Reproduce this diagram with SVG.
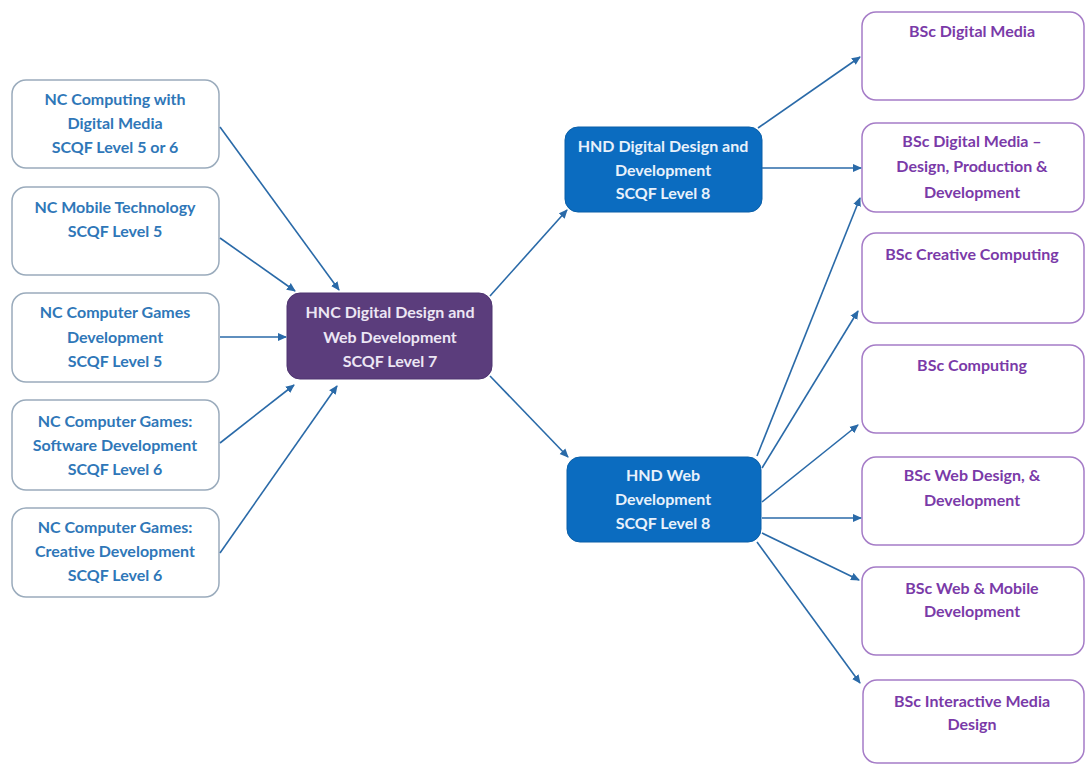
<svg xmlns="http://www.w3.org/2000/svg" width="1090" height="765" viewBox="0 0 1090 765">
<style>
.src{fill:#ffffff;stroke:#9aabbc;stroke-width:1.5}
.dst{fill:#ffffff;stroke:#a57cc7;stroke-width:1.5}
.hnc{fill:#5b3d7c;stroke:#4e3470;stroke-width:1}
.hnd{fill:#0b6cc0;stroke:#0a5fa8;stroke-width:1}
text{font-family:Lato,"Open Sans","Liberation Sans",sans-serif;font-weight:bold;font-size:16px;text-anchor:middle}
.ts{fill:#2f77b8}
.td{fill:#7a3aa8}
.tw{fill:#ece6f4}
.tb{fill:#e8f1fb}
.conn line{stroke:#2a6aa8;stroke-width:1.6;marker-end:url(#ah)}
</style>
<defs>
<marker id="ah" markerWidth="10" markerHeight="10" refX="8" refY="4.5" orient="auto" markerUnits="userSpaceOnUse">
<path d="M0,0.5 L9,4.5 L0,8.5 Z" fill="#2a6aa8"/>
</marker>
</defs>
<rect width="1090" height="765" fill="#ffffff"/>

<g id="nc1"><rect class="src" x="12" y="80" width="207" height="88" rx="14"/>
<text class="ts" x="115" y="105">NC Computing with</text>
<text class="ts" x="115" y="129">Digital Media</text>
<text class="ts" x="115" y="153">SCQF Level 5 or 6</text></g>

<g id="nc2"><rect class="src" x="12" y="187" width="207" height="88" rx="14"/>
<text class="ts" x="115" y="213">NC Mobile Technology</text>
<text class="ts" x="115" y="237">SCQF Level 5</text></g>

<g id="nc3"><rect class="src" x="12" y="293" width="207" height="89" rx="14"/>
<text class="ts" x="115" y="318">NC Computer Games</text>
<text class="ts" x="115" y="343">Development</text>
<text class="ts" x="115" y="367">SCQF Level 5</text></g>

<g id="nc4"><rect class="src" x="12" y="400" width="207" height="90" rx="14"/>
<text class="ts" x="115" y="427">NC Computer Games:</text>
<text class="ts" x="115" y="451">Software Development</text>
<text class="ts" x="115" y="475">SCQF Level 6</text></g>

<g id="nc5"><rect class="src" x="12" y="508" width="207" height="89" rx="14"/>
<text class="ts" x="115" y="533">NC Computer Games:</text>
<text class="ts" x="115" y="557">Creative Development</text>
<text class="ts" x="115" y="581">SCQF Level 6</text></g>

<g id="hnc"><rect class="hnc" x="287" y="293" width="205" height="86" rx="13"/>
<text class="tw" x="390" y="318">HNC Digital Design and</text>
<text class="tw" x="390" y="343">Web Development</text>
<text class="tw" x="390" y="367">SCQF Level 7</text></g>

<g id="hnd1"><rect class="hnd" x="565" y="127" width="197" height="85" rx="13"/>
<text class="tb" x="663" y="152">HND Digital Design and</text>
<text class="tb" x="663" y="176">Development</text>
<text class="tb" x="663" y="199">SCQF Level 8</text></g>

<g id="hnd2"><rect class="hnd" x="567" y="457" width="194" height="85" rx="13"/>
<text class="tb" x="663" y="481">HND Web</text>
<text class="tb" x="663" y="505">Development</text>
<text class="tb" x="663" y="529">SCQF Level 8</text></g>

<g id="bsc1"><rect class="dst" x="862" y="12" width="222" height="88" rx="14"/>
<text class="td" x="972" y="37">BSc Digital Media</text></g>

<g id="bsc2"><rect class="dst" x="862" y="123" width="222" height="89" rx="14"/>
<text class="td" x="972" y="147">BSc Digital Media –</text>
<text class="td" x="972" y="172">Design, Production &amp;</text>
<text class="td" x="972" y="198">Development</text></g>

<g id="bsc3"><rect class="dst" x="862" y="233" width="222" height="90" rx="14"/>
<text class="td" x="972" y="260">BSc Creative Computing</text></g>

<g id="bsc4"><rect class="dst" x="862" y="345" width="222" height="88" rx="14"/>
<text class="td" x="972" y="371">BSc Computing</text></g>

<g id="bsc5"><rect class="dst" x="862" y="457" width="222" height="88" rx="14"/>
<text class="td" x="972" y="481">BSc Web Design, &amp;</text>
<text class="td" x="972" y="506">Development</text></g>

<g id="bsc6"><rect class="dst" x="862" y="567" width="222" height="88" rx="14"/>
<text class="td" x="972" y="594">BSc Web &amp; Mobile</text>
<text class="td" x="972" y="617">Development</text></g>

<g id="bsc7"><rect class="dst" x="863" y="680" width="221" height="83" rx="14"/>
<text class="td" x="972" y="707">BSc Interactive Media</text>
<text class="td" x="972" y="730">Design</text></g>

<g id="connectors" class="conn">
<line x1="220" y1="127" x2="339" y2="290"/>
<line x1="220" y1="238" x2="295" y2="291"/>
<line x1="220" y1="337" x2="286" y2="337"/>
<line x1="220" y1="443" x2="294" y2="385"/>
<line x1="220" y1="553" x2="337" y2="386"/>
<line x1="490" y1="296" x2="567" y2="210"/>
<line x1="490" y1="376" x2="568" y2="457"/>
<line x1="758" y1="128" x2="860" y2="57"/>
<line x1="762" y1="168" x2="861" y2="168"/>
<line x1="757" y1="456" x2="860" y2="198"/>
<line x1="762" y1="468" x2="858" y2="311"/>
<line x1="762" y1="502" x2="858" y2="425"/>
<line x1="762" y1="518" x2="861" y2="518"/>
<line x1="762" y1="533" x2="859" y2="580"/>
<line x1="757" y1="542" x2="860" y2="683"/>
</g>
</svg>
